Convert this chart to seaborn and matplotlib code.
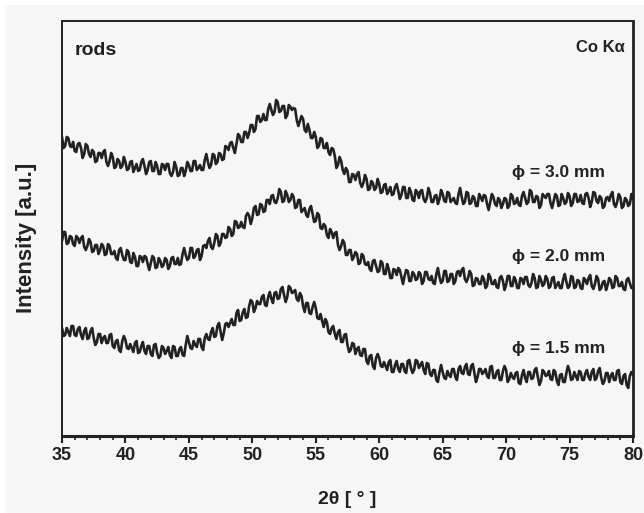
import numpy as np
import pandas as pd
import matplotlib
matplotlib.use("Agg")
import matplotlib.pyplot as plt
from matplotlib.patches import Rectangle
from matplotlib.ticker import MultipleLocator
import seaborn as sns

# scan grid, 2theta in degrees (step 0.125): even points + in-between points
two_theta = np.linspace(35, 80, 361)

# intensities (a.u., curves already offset)
rod_30 = [
    299, 290, 298, 289, 285, 292, 288, 282, 290, 279, 284, 275, 283, 284, 274, 275,
    279, 269, 275, 270, 274, 267, 275, 268, 265, 274, 270, 266, 275, 265, 270, 262,
    271, 272, 263, 264, 269, 261, 268, 265, 271, 265, 275, 268, 266, 276, 274, 271,
    281, 274, 282, 277, 289, 293, 288, 292, 300, 294, 304, 303, 311, 307, 320, 316,
    316, 327, 326, 324, 334, 325, 330, 321, 329, 328, 316, 315, 317, 304, 306, 298,
    299, 290, 297, 288, 284, 288, 280, 271, 275, 262, 265, 254, 261, 262, 253, 253,
    257, 247, 253, 248, 252, 244, 252, 245, 241, 249, 245, 241, 249, 238, 244, 235,
    244, 245, 237, 238, 243, 234, 241, 237, 242, 234, 243, 236, 233, 242, 239, 234,
    243, 233, 238, 230, 239, 241, 232, 234, 239, 230, 236, 232, 237, 230, 240, 233,
    231, 240, 238, 234, 244, 234, 239, 231, 240, 242, 233, 235, 240, 231, 238, 234,
    240, 233, 242, 235, 233, 242, 238, 234, 243, 233, 238, 230, 239, 241, 232, 234,
    239, 230, 236, 232, 237,
]
rod_30_mid = [
    288, 299, 290, 294, 284, 293, 278, 292, 282, 286, 274, 283, 278, 286, 270, 283,
    268, 277, 268, 279, 266, 274, 264, 272, 266, 277, 262, 274, 265, 274, 262, 272,
    266, 272, 260, 274, 260, 268, 260, 274, 265, 275, 266, 271, 266, 282, 268, 282,
    272, 283, 276, 290, 286, 294, 283, 302, 294, 304, 298, 311, 304, 320, 314, 322,
    316, 332, 321, 336, 324, 330, 318, 331, 326, 327, 310, 320, 306, 312, 298, 304,
    288, 298, 288, 293, 281, 287, 268, 279, 266, 268, 254, 262, 256, 264, 249, 261,
    246, 255, 246, 257, 243, 251, 242, 249, 242, 252, 237, 249, 238, 248, 236, 246,
    238, 246, 234, 248, 234, 240, 232, 246, 235, 244, 234, 238, 232, 248, 232, 244,
    232, 240, 230, 242, 235, 240, 226, 242, 232, 238, 228, 238, 228, 242, 232, 238,
    230, 244, 232, 246, 234, 240, 228, 242, 238, 242, 228, 242, 230, 242, 232, 243,
    230, 242, 234, 241, 232, 243, 229, 244, 235, 240, 228, 238, 235, 244, 229, 242,
    228, 238, 230, 242,
]
rod_20 = [
    195, 204, 193, 199, 190, 198, 198, 189, 190, 194, 185, 191, 186, 190, 182, 190,
    182, 178, 186, 181, 176, 184, 173, 179, 170, 179, 180, 172, 173, 178, 169, 175,
    171, 176, 170, 179, 172, 171, 182, 181, 178, 188, 180, 187, 180, 191, 195, 189,
    193, 200, 193, 202, 199, 207, 202, 214, 209, 209, 220, 220, 218, 230, 222, 231,
    225, 236, 240, 234, 238, 244, 235, 241, 236, 239, 229, 236, 226, 221, 227, 222,
    215, 221, 207, 210, 198, 204, 203, 191, 190, 193, 181, 186, 179, 182, 173, 180,
    171, 167, 175, 170, 165, 173, 162, 167, 158, 166, 168, 159, 160, 165, 155, 162,
    157, 162, 155, 164, 156, 153, 162, 159, 155, 165, 155, 162, 155, 165, 166, 157,
    158, 162, 151, 157, 152, 157, 150, 159, 152, 149, 158, 155, 151, 160, 150, 156,
    148, 157, 159, 151, 153, 158, 149, 156, 152, 157, 150, 159, 151, 148, 157, 154,
    150, 159, 149, 155, 147, 156, 158, 150, 152, 157, 148, 155, 151, 156, 149, 158,
    150, 147, 156, 153, 148,
]
rod_20_mid = [
    204, 192, 200, 192, 200, 193, 200, 186, 197, 184, 191, 182, 192, 181, 192, 182,
    185, 176, 188, 176, 186, 174, 183, 170, 180, 174, 179, 166, 180, 168, 178, 169,
    178, 167, 178, 172, 178, 172, 188, 176, 188, 178, 186, 176, 190, 188, 198, 187,
    202, 190, 202, 198, 209, 200, 215, 208, 214, 208, 223, 212, 228, 221, 232, 224,
    236, 232, 241, 233, 247, 234, 245, 234, 242, 228, 236, 224, 228, 219, 230, 214,
    223, 208, 212, 201, 207, 198, 204, 186, 196, 181, 186, 176, 184, 172, 182, 172,
    174, 165, 176, 164, 175, 162, 172, 158, 167, 161, 166, 152, 166, 155, 164, 156,
    164, 152, 164, 157, 160, 152, 168, 153, 165, 154, 162, 152, 164, 160, 168, 154,
    165, 150, 158, 152, 160, 148, 162, 152, 156, 148, 160, 146, 160, 150, 159, 148,
    158, 152, 159, 149, 162, 148, 160, 150, 160, 148, 158, 148, 154, 148, 162, 148,
    160, 148, 156, 148, 158, 152, 161, 147, 160, 146, 154, 146, 158, 148, 160, 150,
    154, 146, 158, 148,
]
rod_15 = [
    108, 101, 104, 110, 101, 107, 101, 105, 97, 105, 98, 94, 102, 98, 93, 101,
    90, 95, 86, 95, 96, 87, 88, 93, 83, 90, 85, 90, 82, 91, 83, 80,
    88, 85, 81, 90, 80, 87, 81, 91, 94, 87, 91, 97, 89, 98, 97, 104,
    99, 110, 104, 103, 113, 113, 111, 123, 115, 124, 118, 130, 134, 128, 132, 139,
    131, 139, 137, 143, 137, 147, 141, 139, 148, 144, 137, 143, 130, 133, 123, 129,
    128, 117, 115, 117, 104, 108, 102, 104, 94, 101, 91, 86, 92, 87, 81, 87,
    75, 80, 70, 78, 78, 69, 70, 74, 64, 71, 67, 72, 65, 75, 68, 66,
    75, 71, 66, 73, 62, 66, 56, 64, 64, 57, 61, 67, 59, 67, 63, 69,
    62, 70, 63, 59, 67, 64, 60, 69, 58, 64, 56, 65, 66, 57, 59, 63,
    53, 61, 58, 64, 57, 66, 59, 55, 64, 61, 57, 66, 55, 61, 54, 63,
    65, 57, 60, 65, 56, 63, 59, 64, 56, 65, 58, 55, 63, 60, 56, 65,
    54, 60, 51, 60, 61,
]
rod_15_mid = [
    100, 108, 100, 110, 100, 109, 97, 108, 98, 108, 91, 102, 93, 100, 93, 102,
    88, 96, 84, 100, 88, 92, 84, 95, 84, 94, 82, 90, 80, 92, 78, 90,
    82, 89, 78, 89, 80, 89, 80, 100, 88, 95, 89, 97, 86, 102, 96, 108,
    100, 113, 96, 112, 109, 117, 111, 126, 116, 127, 119, 136, 124, 135, 132, 141,
    130, 144, 133, 144, 138, 149, 134, 150, 143, 146, 135, 140, 124, 133, 122, 134,
    118, 122, 109, 114, 102, 110, 97, 106, 94, 102, 84, 93, 82, 89, 80, 87,
    72, 81, 67, 82, 70, 74, 66, 76, 64, 75, 64, 72, 63, 76, 63, 76,
    68, 74, 62, 72, 60, 66, 54, 71, 58, 65, 59, 67, 56, 70, 62, 72,
    61, 72, 54, 67, 62, 67, 58, 70, 58, 66, 56, 70, 54, 63, 57, 64,
    52, 66, 54, 64, 58, 68, 51, 66, 60, 65, 56, 64, 51, 62, 54, 70,
    56, 64, 56, 64, 56, 66, 56, 67, 58, 68, 52, 63, 54, 63, 56, 66,
    52, 62, 48, 64,
]

curve_labels = ["\u03d5 = 3.0 mm", "\u03d5 = 2.0 mm", "\u03d5 = 1.5 mm"]
label_heights = [264, 179, 88]


def merge(even, mid):
    full = np.empty(len(even) + len(mid))
    full[0::2] = even
    full[1::2] = mid
    return full


df = pd.concat([
    pd.DataFrame({"two_theta": two_theta, "intensity": merge(rod_30, rod_30_mid), "rod": "3.0"}),
    pd.DataFrame({"two_theta": two_theta, "intensity": merge(rod_20, rod_20_mid), "rod": "2.0"}),
    pd.DataFrame({"two_theta": two_theta, "intensity": merge(rod_15, rod_15_mid), "rod": "1.5"}),
])

sns.set_theme(style="ticks")
plt.rcParams["font.family"] = ["Liberation Sans", "DejaVu Sans"]
plt.rcParams["font.weight"] = "bold"

bg = "#f6f6f6"
ink = "#222222"

fig = plt.figure(figsize=(6.44, 5.13), dpi=100)
fig.patch.set_facecolor("white")
fig.patches.append(Rectangle((5 / 644, 0), 639 / 644, 508 / 513, transform=fig.transFigure,
                             facecolor=bg, edgecolor="none", zorder=-10))
ax = fig.add_axes([62 / 644, 77 / 513, 571 / 644, 415 / 513])
ax.set_facecolor(bg)

sns.lineplot(data=df, x="two_theta", y="intensity", units="rod", estimator=None,
             color=ink, linewidth=1.9, ax=ax, legend=False)

ax.set_xlim(35, 80)
ax.set_ylim(0, 415)
ax.xaxis.set_major_locator(MultipleLocator(5))
ax.xaxis.set_minor_locator(MultipleLocator(1))
ax.set_yticks([])
ax.tick_params(axis="x", which="major", direction="out", length=5, width=1.5,
               color=ink, labelsize=13, pad=3, labelcolor=ink)
ax.tick_params(axis="x", which="minor", direction="out", length=3, width=1.2, color=ink)
for lab in ax.get_xticklabels():
    lab.set_fontweight("bold")

for side, lw in [("left", 1.4), ("top", 1.4), ("right", 2.0), ("bottom", 2.2)]:
    ax.spines[side].set_visible(True)
    ax.spines[side].set_linewidth(lw)
    ax.spines[side].set_color(ink)

ax.set_xlabel("2\u03b8 [ \u00b0 ]", fontsize=14, fontweight="bold", color=ink, labelpad=19)
ax.set_ylabel("Intensity [a.u.]", fontsize=16, fontweight="bold", color=ink)
ax.yaxis.set_label_coords(-0.044, 0.477)

ax.text(0.022, 0.93, "rods", transform=ax.transAxes, fontsize=14, fontweight="bold",
        color=ink, va="center", ha="left")
ax.text(0.985, 0.935, "Co K\u03b1", transform=ax.transAxes, fontsize=12, fontweight="bold",
        color=ink, va="center", ha="right")
for txt, h in zip(curve_labels, label_heights):
    ax.text(74.1, h, txt, fontsize=12.5, fontweight="bold", color=ink, va="center", ha="center")

fig.savefig("out.png", dpi=100, facecolor=fig.get_facecolor())
